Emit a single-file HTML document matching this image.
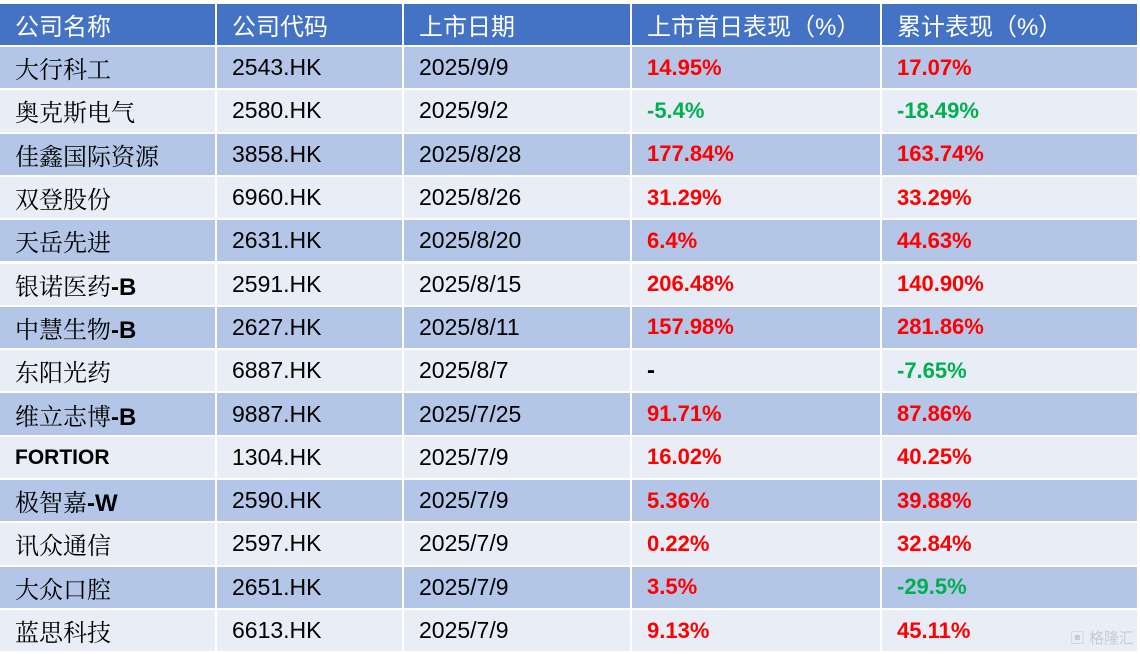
<!DOCTYPE html>
<html><head><meta charset="utf-8"><style>
body{margin:0;width:1140px;height:654px;background:#fff;overflow:hidden;position:relative;font-family:"Liberation Sans","Noto Sans CJK SC",sans-serif;}
.c{position:absolute;box-sizing:border-box;padding-left:15px;display:flex;align-items:center;font-size:24px;color:#000;white-space:nowrap}
.h{background:#4472C4;color:#fff}
.o{background:#B4C6E7}
.e{background:#E9EDF5}
.r{color:#FF0000;font-weight:bold;font-size:22px}
.g{color:#00B050;font-weight:bold;font-size:22px}
.b{font-weight:bold}
.n{font-size:23px}
.s{font-family:"Liberation Sans","Noto Serif CJK SC",serif;font-size:24px}
.wm{position:absolute;right:6px;bottom:6px;color:#c8ccd2;font-size:15px}
</style></head><body>
<div id="t"></div>
<div class="wm">▣ 格隆汇</div>
<script>
const cols=[[0,215],[217,402],[404,630],[632,880],[882,1137]];
const head=["公司名称","公司代码","上市日期","上市首日表现（%）","累计表现（%）"];
const rows=[
["大行科工","2543.HK","2025/9/9","14.95%","17.07%"],
["奥克斯电气","2580.HK","2025/9/2","-5.4%","-18.49%"],
["佳鑫国际资源","3858.HK","2025/8/28","177.84%","163.74%"],
["双登股份","6960.HK","2025/8/26","31.29%","33.29%"],
["天岳先进","2631.HK","2025/8/20","6.4%","44.63%"],
["银诺医药<b>-B</b>","2591.HK","2025/8/15","206.48%","140.90%"],
["中慧生物<b>-B</b>","2627.HK","2025/8/11","157.98%","281.86%"],
["东阳光药","6887.HK","2025/8/7","-","-7.65%"],
["维立志博<b>-B</b>","9887.HK","2025/7/25","91.71%","87.86%"],
["<b style='font-size:21px;font-family:Liberation Sans'>FORTIOR</b>","1304.HK","2025/7/9","16.02%","40.25%"],
["极智嘉<b>-W</b>","2590.HK","2025/7/9","5.36%","39.88%"],
["讯众通信","2597.HK","2025/7/9","0.22%","32.84%"],
["大众口腔","2651.HK","2025/7/9","3.5%","-29.5%"],
["蓝思科技","6613.HK","2025/7/9","9.13%","45.11%"]];
let h="";
head.forEach((t,i)=>{h+=`<div class="c h" style="left:${cols[i][0]}px;width:${cols[i][1]-cols[i][0]}px;top:4px;height:41px">${t}</div>`});
const rh=41.3;
rows.forEach((r,j)=>{const top=47+j*(rh+2);const cl=j%2==0?"o":"e";
r.forEach((t,i)=>{let x=cl;if(i==1||i==2)x+=" n";if(i>=3){x+=(t.startsWith("-")&&t!="-")?" g":" r";if(t=="-")x=cl+" b";}
let inner=i==0?`<span class="s">${t}</span>`:t;
h+=`<div class="c ${x}" style="left:${cols[i][0]}px;width:${cols[i][1]-cols[i][0]}px;top:${top}px;height:${rh}px">${inner}</div>`});});
document.getElementById("t").innerHTML=h;
</script>
</body></html>
